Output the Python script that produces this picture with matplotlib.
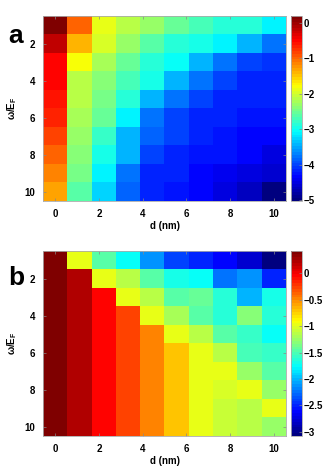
import numpy as np
import matplotlib
matplotlib.use('Agg')
import matplotlib.pyplot as plt
from matplotlib.colors import LinearSegmentedColormap

plt.rcParams['font.family'] = ['Liberation Sans', 'DejaVu Sans']
plt.rcParams['font.weight'] = 'bold'

# d (nm) for each column, omega/E_F for each row
d_nm = np.linspace(0, 10, 10)
omega = np.arange(1, 11)

# panel a values (log scale), rows omega = 1..10, columns d
vals_a = [
    [0.19, -0.96, -1.90, -2.11, -2.32, -2.52, -2.68, -2.84, -2.89, -3.10],
    [-0.18, -1.38, -2.00, -2.26, -2.63, -2.84, -2.94, -3.15, -3.46, -3.73],
    [-0.49, -1.79, -2.21, -2.58, -2.84, -3.05, -3.46, -3.73, -3.99, -4.09],
    [-0.54, -2.10, -2.40, -2.68, -2.99, -3.41, -3.73, -4.04, -4.14, -4.14],
    [-0.59, -2.15, -2.45, -2.84, -3.41, -3.73, -3.99, -4.14, -4.20, -4.20],
    [-0.70, -2.22, -2.55, -3.10, -3.73, -3.99, -4.14, -4.20, -4.25, -4.25],
    [-0.80, -2.27, -2.75, -3.41, -3.83, -4.04, -4.20, -4.25, -4.30, -4.35],
    [-1.01, -2.37, -2.94, -3.46, -4.04, -4.14, -4.25, -4.25, -4.35, -4.46],
    [-1.17, -2.47, -3.10, -3.78, -4.14, -4.20, -4.30, -4.40, -4.51, -4.61],
    [-1.32, -2.63, -3.26, -3.88, -4.20, -4.25, -4.35, -4.46, -4.67, -5.03],
]

# panel b values
vals_b = [
    [0.42, -0.98, -1.47, -1.75, -2.14, -2.38, -2.49, -2.63, -2.80, -3.08],
    [0.42, 0.21, -0.98, -1.16, -1.44, -1.68, -1.72, -2.24, -2.10, -2.49],
    [0.42, 0.21, -0.07, -0.95, -1.16, -1.44, -1.40, -1.65, -2.03, -1.68],
    [0.42, 0.21, -0.07, -0.28, -0.98, -1.19, -1.47, -1.61, -1.30, -1.61],
    [0.42, 0.21, -0.07, -0.28, -0.49, -0.98, -1.16, -1.44, -1.58, -1.75],
    [0.42, 0.21, -0.07, -0.28, -0.49, -0.70, -0.95, -1.16, -1.50, -1.58],
    [0.42, 0.21, -0.07, -0.28, -0.49, -0.70, -0.95, -0.98, -1.23, -1.44],
    [0.42, 0.21, -0.07, -0.28, -0.49, -0.70, -0.95, -1.05, -0.95, -1.23],
    [0.42, 0.21, -0.07, -0.28, -0.49, -0.70, -0.95, -1.09, -1.12, -0.98],
    [0.42, 0.21, -0.07, -0.28, -0.49, -0.70, -0.95, -1.09, -1.12, -1.23],
]

cbar_ticks_a = [0, -1, -2, -3, -4, -5]
cbar_ticks_b = [0, -0.5, -1, -1.5, -2, -2.5, -3]
x_ticks = [0, 2, 4, 6, 8, 10]
y_ticks = [2, 4, 6, 8, 10]

# MATLAB style jet
mjet = LinearSegmentedColormap('mjet', {
    'red': [(0, 0, 0), (0.375, 0, 0), (0.625, 1, 1), (0.875, 1, 1), (1, 0.5, 0.5)],
    'green': [(0, 0, 0), (0.125, 0, 0), (0.375, 1, 1), (0.625, 1, 1),
              (0.875, 0, 0), (1, 0, 0)],
    'blue': [(0, 0.5, 0.5), (0.125, 1, 1), (0.375, 1, 1), (0.625, 0, 0), (1, 0, 0)],
}, N=64)

fig = plt.figure(figsize=(3.36, 4.73), dpi=100)

dd = d_nm[1] - d_nm[0]
extent = [d_nm[0] - dd / 2, d_nm[-1] + dd / 2, omega[-1] + 0.5, omega[0] - 0.5]

panels = [
    ('a', vals_a, cbar_ticks_a, 0.575, 0.335),
    ('b', vals_b, cbar_ticks_b, 0.078, 0.32),
]

for letter, vals, cticks, bottom, ty in panels:
    ax = fig.add_axes([0.129, bottom, 0.722, 0.391])
    cax = fig.add_axes([0.866, bottom, 0.033, 0.391])
    im = ax.imshow(np.array(vals), cmap=mjet, aspect='auto', extent=extent,
                   interpolation='nearest')
    ax.set_xticks(x_ticks)
    ax.set_yticks(y_ticks)
    ax.tick_params(direction='in', length=2, width=0.5, labelsize=7,
                   top=True, right=True, color='#888888', pad=6)
    for s in ax.spines.values():
        s.set_color('#aaaaaa')
        s.set_linewidth(0.6)
    ax.set_xlabel('d (nm)', fontsize=7, fontweight='bold', labelpad=1)
    ax.set_ylabel('ω/E$_\\mathregular{F}$', fontsize=7, fontweight='bold',
                  labelpad=4)
    cb = fig.colorbar(im, cax=cax, ticks=cticks)
    cb.ax.set_yticklabels([('%g' % t).replace('-', '\u2212') for t in cticks])
    cb.ax.tick_params(direction='in', length=2, width=0.5, labelsize=7,
                      color='#888888', pad=1)
    cb.outline.set_edgecolor('#aaaaaa')
    cb.outline.set_linewidth(0.6)
    fig.text(0.025, bottom + ty, letter, fontsize=19, fontweight='bold')

plt.savefig('out.png', dpi=100)
